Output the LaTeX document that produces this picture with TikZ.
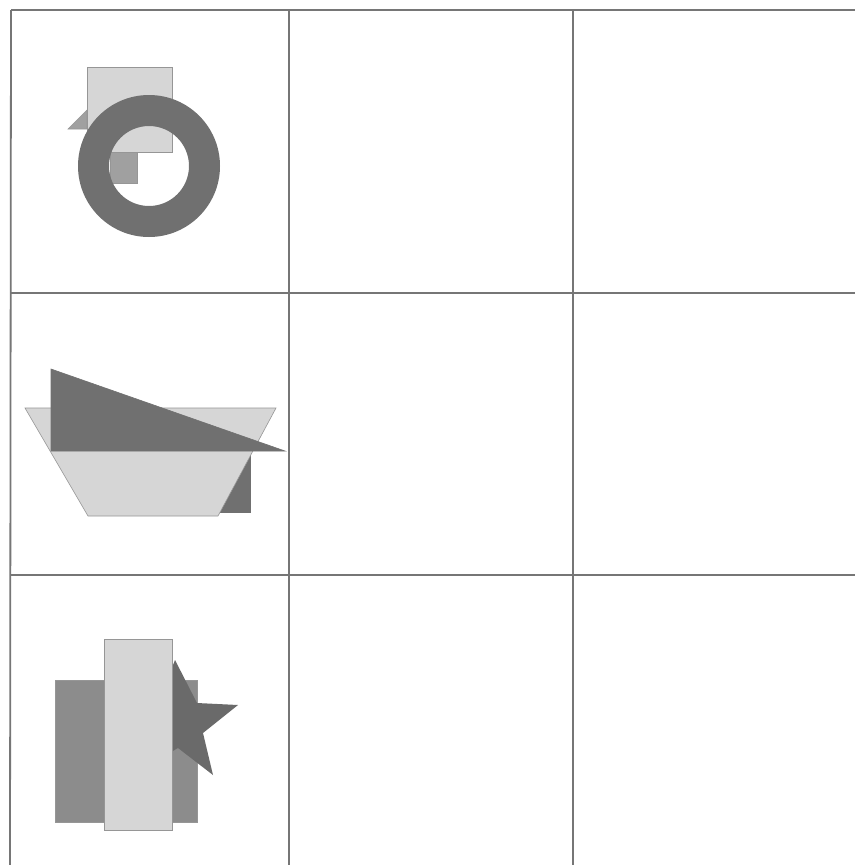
\documentclass[tikz,border=0pt]{standalone}
\begin{document}
\begin{tikzpicture}[x=1pt,y=-1pt]
\definecolor{gridc}{RGB}{118,118,118}
\definecolor{lightg}{RGB}{214,214,214}
\definecolor{midg}{RGB}{160,160,160}
\definecolor{backg}{RGB}{140,140,140}
\definecolor{darkg}{RGB}{112,112,112}
\definecolor{edgec}{RGB}{150,150,150}
\tikzset{gridline/.style={draw=gridc,line width=1.8pt},
  shp/.style={draw=edgec,line width=0.6pt,line join=miter}}
\useasboundingbox (0,0) rectangle (855,865);
\fill[white] (0,0) rectangle (855,865);
% grid
\draw[gridline] (11,10) -- (855,10);
\draw[gridline] (11,293) -- (855,293);
\draw[gridline] (11,575) -- (855,575);
\draw[gridline] (11,10) -- (10,865);
\draw[gridline] (289,10) -- (289,865);
\draw[gridline] (573,10) -- (573,865);
% cell 1
\fill[shp,fill=midg] (68,129) -- (87,110) -- (87,129) -- cycle;
\fill[shp,fill=lightg] (87,67) rectangle (172,152);
\fill[shp,fill=midg] (110,152) rectangle (137,183);
\fill[darkg,even odd rule] (149,166) circle (71pt) (149,166) circle (40pt);
% cell 2
\fill[darkg] (200,451) rectangle (251,513);
\fill[shp,fill=lightg] (25,408) -- (276,408) -- (218,516) -- (88,516) -- cycle;
\fill[shp,fill=darkg,draw=darkg] (51,369) -- (51,451) -- (285,451) -- cycle;
% cell 3
\fill[shp,fill=backg] (55,680) rectangle (197,822);
\fill[fill=darkg!95!black] (175,660) -- (197,703) -- (238,705) -- (203,733) -- (213,775)
  -- (178,748) -- (140,770) -- (150,725) -- (120,700) -- (160,698) -- cycle;
\fill[shp,fill=lightg] (104,639) rectangle (172,830);
\end{tikzpicture}
\end{document}
